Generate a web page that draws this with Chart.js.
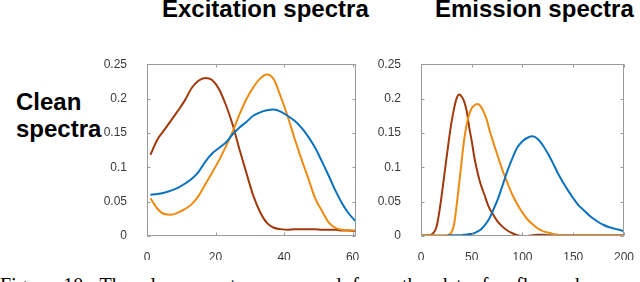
<!DOCTYPE html>
<html lang="en">

<head>
    <meta charset="UTF-8">
    <script src="https://cdn.jsdelivr.net/npm/chart.js"></script>
    <title>Clean spectra</title>
    <style>
        body { margin: 0; background: #fff; width: 640px; height: 282px; overflow: hidden; position: relative; }
        .titulo { position: absolute; font: bold 24px "Liberation Sans", Arial, sans-serif; line-height: 24px; color: #000; white-space: nowrap; }
        .rotulo { position: absolute; font: bold 24px "Liberation Sans", Arial, sans-serif; line-height: 27px; color: #000; }
        .legenda { position: absolute; left: 0; top: 275px; font: 20px "Liberation Serif", "Times New Roman", serif; line-height: 20px; word-spacing: 6px; white-space: nowrap; color: #000; }
        .grafico { position: absolute; }
    </style>
</head>

<body>
    <div class="titulo" style="left:162px; top:-3px;">Excitation spectra</div>
    <div class="titulo" style="left:435px; top:-3px;">Emission spectra</div>
    <div class="rotulo" style="left:16px; top:88px;">Clean<br>spectra</div>

    <div class="grafico" style="left:90px; top:45px; width:278px; height:215px;">
        <canvas id="graficoExc" width="278" height="215"></canvas>
    </div>
    <div class="grafico" style="left:368px; top:45px; width:272px; height:215px;">
        <canvas id="graficoEmi" width="272" height="215"></canvas>
    </div>

    <div class="legenda">Figure 10: The clean spectra recovered from the data for fluorophores</div>
</body>
<script>

    // eixo x dos espectros de excitacao
    const xExc = [1, 3, 5, 7, 9, 11, 13, 15, 17, 19, 21, 23, 25, 27, 29, 31,
        33, 35, 37, 39, 41, 43, 45, 47, 49, 51, 53, 55, 57, 59, 61];

    const excAzul = [0.060, 0.061, 0.063, 0.066, 0.070, 0.076, 0.083, 0.093, 0.108, 0.120, 0.128, 0.136, 0.148, 0.158, 0.166, 0.175,
        0.180, 0.183, 0.184, 0.181, 0.175, 0.168, 0.158, 0.145, 0.129, 0.109, 0.088, 0.066, 0.047, 0.032, 0.021];

    const excLaranja = [0.055, 0.040, 0.032, 0.031, 0.034, 0.039, 0.046, 0.058, 0.075, 0.092, 0.110, 0.130, 0.152, 0.177, 0.199, 0.216,
        0.229, 0.235, 0.228, 0.203, 0.175, 0.143, 0.113, 0.085, 0.056, 0.037, 0.020, 0.012, 0.009, 0.008, 0.008];

    const excMarrom = [0.118, 0.140, 0.154, 0.168, 0.182, 0.197, 0.215, 0.226, 0.230, 0.227, 0.214, 0.191, 0.162, 0.126, 0.092, 0.059,
        0.035, 0.019, 0.012, 0.010, 0.009, 0.010, 0.010, 0.010, 0.010, 0.009, 0.009, 0.009, 0.008, 0.008, 0.007];

    // eixo x dos espectros de emissao
    const xEmi = [0, 5, 10,
        12.5, 15, 17.5, 20, 22.5, 25, 27.5, 30, 32.5, 35, 37.5, 40,
        42.5, 45, 47.5, 50, 52.5, 55, 57.5, 60, 62.5, 65, 67.5, 70,
        75, 80, 85, 90, 95, 100, 105, 110, 115, 120, 125,
        130, 135, 140, 145, 150, 155, 160, 165, 170, 175, 180, 185, 190, 195, 200];

    const emiAzul = [0, 0, 0,
        0, 0, 0, 0, 0, 0, 0.001, 0.001, 0.001, 0.001, 0.001, 0.001,
        0.002, 0.002, 0.003, 0.003, 0.004, 0.006, 0.008, 0.011, 0.015, 0.020, 0.026, 0.034,
        0.051, 0.072, 0.094, 0.113, 0.129, 0.138, 0.143, 0.145, 0.141, 0.132, 0.120,
        0.106, 0.091, 0.078, 0.066, 0.055, 0.045, 0.038, 0.031, 0.025, 0.020, 0.016, 0.013, 0.011, 0.009, 0.007];

    const emiLaranja = [0.001, 0.001, 0.001,
        0.001, 0.001, 0.001, 0.001, 0.001, 0.001, 0.002, 0.005, 0.016, 0.043, 0.075, 0.108,
        0.140, 0.162, 0.177, 0.186, 0.190, 0.192, 0.191, 0.186, 0.178, 0.168, 0.154, 0.142,
        0.119, 0.097, 0.078, 0.060, 0.046, 0.034, 0.024, 0.017, 0.011, 0.007, 0.005,
        0.003, 0.002, 0.001, 0.001, 0.001, 0.001, 0.001, 0.001, 0.001, 0.001, 0.001, 0.001, 0.001, 0.001, 0.001];

    const emiMarrom = [0.001, 0.001, 0.002,
        0.005, 0.012, 0.030, 0.055, 0.083, 0.112, 0.140, 0.165, 0.185, 0.200, 0.206, 0.203,
        0.196, 0.182, 0.158, 0.138, 0.115, 0.097, 0.082, 0.070, 0.060, 0.049, 0.040, 0.034,
        0.022, 0.014, 0.008, 0.004, 0.001, 0.000, 0.000, 0.001, 0.002, 0.002, 0.001,
        0.001, 0.001, 0.001, 0.001, 0.001, 0.001, 0.001, 0.001, 0.001, 0.001, 0.001, 0.001, 0.001, 0.001, 0.001];

    // marcas dos eixos
    const ticksExcX = [0, 20, 40, 60];
    const ticksEmiX = [0, 50, 100, 150, 200];
    const ticksY = [0, 0.05, 0.1, 0.15, 0.2, 0.25];
    const rotulosY = ['0', '0.05', '0.1', '0.15', '0.2', '0.25'];

    const corAzul = '#0a72bc';
    const corLaranja = '#ee8a10';
    const corMarrom = '#a0390b';

    function pares(xs, ys) {
        return xs.map(function (x, i) { return { x: x, y: ys[i] }; });
    }

    // caixa estilo matlab com marcas para dentro
    const caixaPlugin = {
        id: 'caixa',
        afterDraw: function (chart) {
            const ctx = chart.ctx;
            const a = chart.chartArea;
            const sx = chart.scales.x;
            const sy = chart.scales.y;
            const L = Math.round(a.left) + 0.5, R = Math.round(a.right) - 0.5;
            const T = Math.round(a.top) + 0.5, B = Math.round(a.bottom) - 0.5;
            ctx.save();
            ctx.strokeStyle = '#9a9a9a';
            ctx.lineWidth = 1;
            ctx.strokeRect(L, T, R - L, B - T);
            ctx.beginPath();
            sx.ticks.forEach(function (t) {
                const px = Math.round(sx.getPixelForValue(t.value)) + 0.5;
                ctx.moveTo(px, B); ctx.lineTo(px, B - 3);
                ctx.moveTo(px, T); ctx.lineTo(px, T + 3);
            });
            sy.ticks.forEach(function (t) {
                const py = Math.round(sy.getPixelForValue(t.value)) + 0.5;
                ctx.moveTo(L, py); ctx.lineTo(L + 3, py);
                ctx.moveTo(R, py); ctx.lineTo(R - 3, py);
            });
            ctx.stroke();
            ctx.restore();
        }
    };

    function plotarGrafico(idCanvas, xs, series, xMax, ticksX, larguraY, padDir) {
        const dados = {
            datasets: [
                { label: 'azul', data: pares(xs, series[0]), borderColor: corAzul },
                { label: 'laranja', data: pares(xs, series[1]), borderColor: corLaranja },
                { label: 'marrom', data: pares(xs, series[2]), borderColor: corMarrom }
            ]
        };

        const config = {
            type: 'line',
            data: dados,
            options: {
                responsive: false,
                animation: false,
                layout: { padding: { top: 11, right: padDir, left: 0, bottom: 0 } },
                elements: {
                    line: { borderWidth: 2, cubicInterpolationMode: 'monotone', fill: false },
                    point: { radius: 0 }
                },
                plugins: { legend: { display: false }, tooltip: { enabled: false } },
                scales: {
                    x: {
                        type: 'linear',
                        min: 0,
                        max: xMax,
                        afterBuildTicks: function (s) { s.ticks = ticksX.map(function (v) { return { value: v }; }); },
                        afterFit: function (s) { s.height = 24; },
                        grid: { display: false },
                        border: { display: false },
                        ticks: {
                            padding: 6,
                            maxRotation: 0,
                            color: '#3a3a3a',
                            font: { family: 'Liberation Sans, Arial, sans-serif', size: 12 }
                        }
                    },
                    y: {
                        min: 0,
                        max: 0.25,
                        afterBuildTicks: function (s) { s.ticks = ticksY.map(function (v) { return { value: v }; }); },
                        afterFit: function (s) { s.width = larguraY; },
                        grid: { display: false },
                        border: { display: false },
                        ticks: {
                            padding: 12,
                            color: '#3a3a3a',
                            font: { family: 'Liberation Sans, Arial, sans-serif', size: 12 },
                            callback: function (v) { return rotulosY[ticksY.indexOf(v)]; }
                        }
                    }
                }
            },
            plugins: [caixaPlugin]
        };

        new Chart(document.getElementById(idCanvas), config);
    }

    plotarGrafico('graficoExc', xExc, [excAzul, excLaranja, excMarrom], 61, ticksExcX, 57, 12);
    plotarGrafico('graficoEmi', xEmi, [emiAzul, emiLaranja, emiMarrom], 200, ticksEmiX, 53, 10);

</script>

</html>
